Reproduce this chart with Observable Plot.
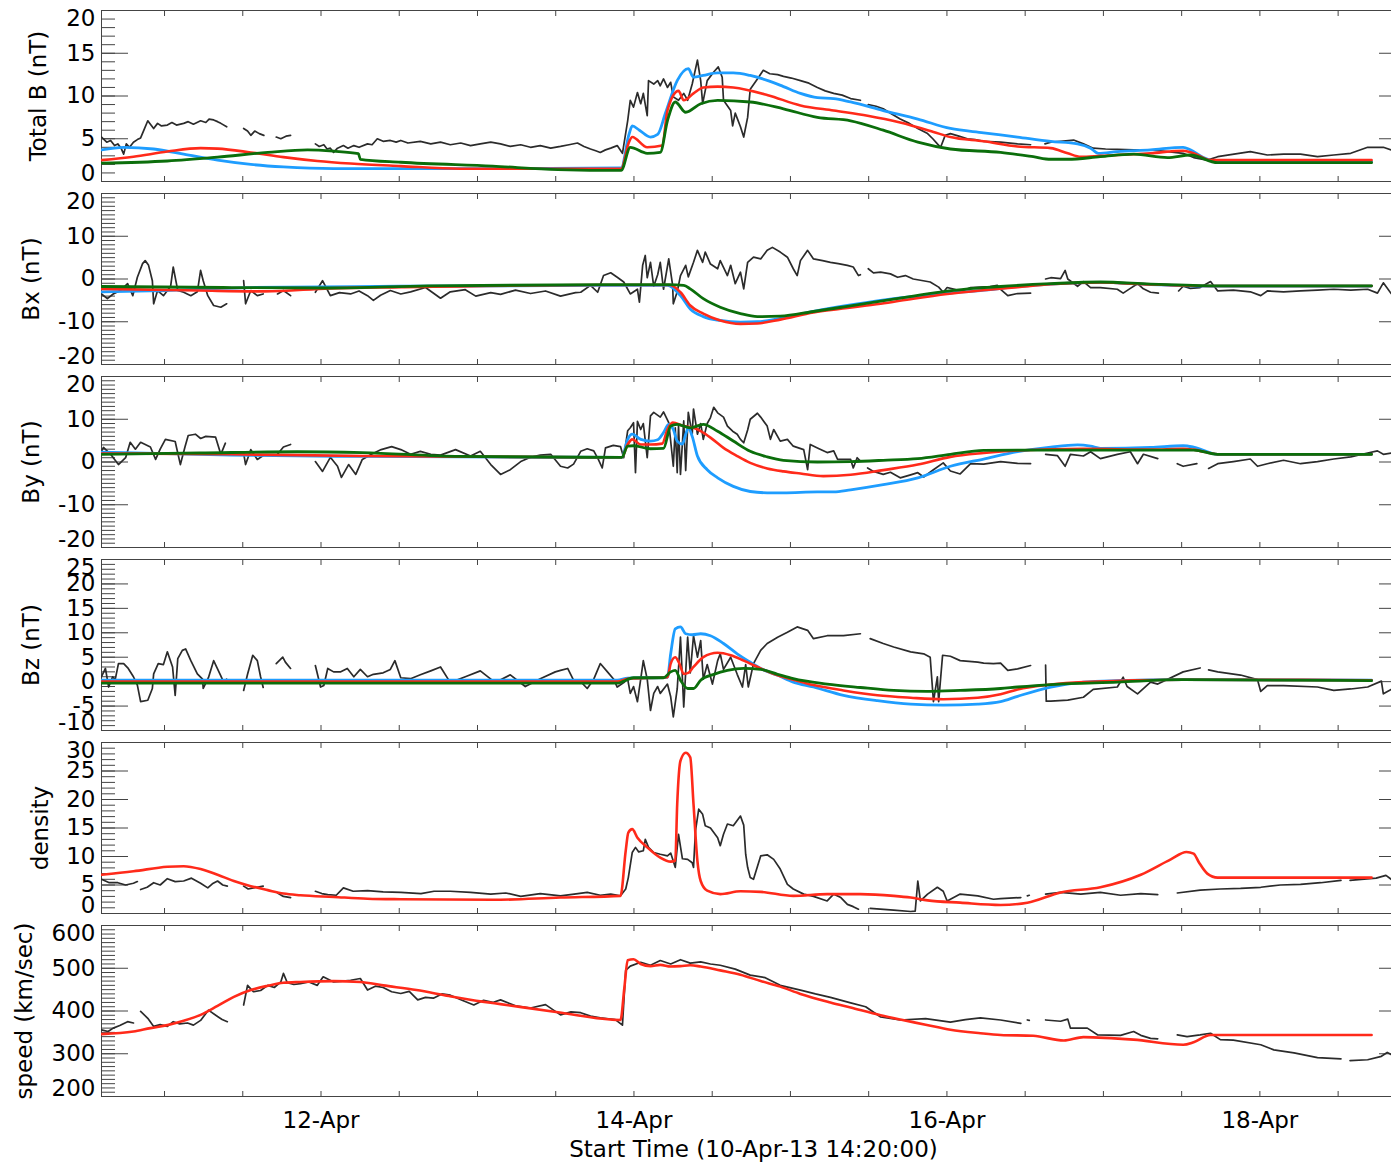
<!DOCTYPE html>
<html>
<head>
<meta charset="utf-8">
<script src="https://cdn.jsdelivr.net/npm/d3@7"></script>
<script src="https://cdn.jsdelivr.net/npm/@observablehq/plot@0.6"></script>
<style>
html, body { margin: 0; padding: 0; background: #fff; overflow: hidden; }
#chart { width: 1391px; overflow: hidden; }
#chart svg { display: block; max-width: none !important; }
</style>
</head>
<body>
<div id="chart"></div>
<script>
// ---- time axis: hours since start (10-Apr-13 14:20:00 UTC) ----
const T0 = Date.UTC(2013, 3, 10, 14, 20);
const xSpanHours = [0, 200];
const dayLabelDays = [12, 14, 16, 18];
const dayLabels = ["12-Apr", "14-Apr", "16-Apr", "18-Apr"];
const xTitle = "Start Time (10-Apr-13 14:20:00)";

// ---- Panel 1: Total B (nT) ----
const tbObs = [[0,5.2],[0.8,4.6],[1.4,4.8],[2.0,4.2],[2.5,4.4],[3.0,3.9],[3.4,3.2],[3.8,4.4],[4.3,4.0],[4.9,4.6],[5.5,4.9],[6.0,5.1],[6.5,6.0],[7.1,7.1],[7.5,6.7],[8.0,6.2],[8.6,6.8],[9.2,6.5],[10.1,6.6],[10.8,6.9],[11.5,6.6],[12.6,6.8],[13.3,7.0],[14.1,6.7],[15.2,7.1],[16.0,6.9],[16.5,7.3],[17.2,7.2],[17.8,7.0],[18.3,6.8],[19.2,6.4],[19.3,null],[21.8,6.2],[22.4,5.9],[22.9,5.4],[23.5,5.9],[24.2,5.6],[24.9,5.4],[25.0,null],[26.8,5.2],[27.5,5.0],[28.3,5.3],[29.0,5.4],[29.1,null],[32.8,4.4],[33.4,4.1],[34.1,4.3],[34.6,3.8],[35.1,3.9],[35.6,3.4],[36.2,3.9],[37.1,4.2],[37.8,3.9],[38.7,4.2],[39.5,4.0],[40.8,4.4],[41.5,4.3],[42.3,5.0],[43.2,4.7],[44.3,4.8],[45.2,4.6],[45.9,4.8],[47.0,4.5],[48.9,4.7],[50.5,4.4],[52.0,4.6],[53.5,4.3],[55.1,4.5],[56.6,4.2],[58.1,4.4],[59.7,4.6],[61.2,4.4],[62.7,4.1],[64.3,4.3],[65.8,4.0],[67.3,4.2],[68.9,3.9],[70.4,4.1],[71.7,4.3],[73.0,4.5],[74.0,4.1],[75.0,3.8],[75.8,3.6],[76.5,3.4],[77.3,3.7],[78.1,3.9],[79.1,4.2],[79.9,3.3],[80.7,7.1],[81.1,9.5],[81.6,8.7],[82.2,10.4],[82.7,9.1],[83.1,10.3],[83.7,7.7],[83.9,11.8],[84.7,11.4],[85.3,11.8],[85.7,11.2],[86.2,12.0],[86.8,11.0],[87.3,11.6],[87.7,9.9],[88.5,9.5],[89.3,10.3],[89.9,9.5],[90.6,11.4],[91.4,14.2],[91.9,11.8],[92.2,9.1],[92.9,11.8],[93.9,12.8],[94.6,13.4],[95.2,12.2],[95.4,9.5],[96.5,8.3],[96.8,6.5],[97.2,8.0],[98.0,6.4],[98.5,5.2],[99.1,7.5],[99.5,10.8],[100.6,12.0],[101.5,13.0],[102.5,12.6],[103.7,12.5],[104.6,12.3],[105.8,12.1],[107.2,11.8],[108.5,11.5],[109.8,11.0],[111.0,10.6],[112.3,10.3],[113.6,10.1],[114.9,9.7],[116.4,9.5],[116.5,null],[117.6,9.0],[118.8,8.8],[119.9,8.5],[121.2,7.9],[122.5,7.3],[123.9,6.8],[125.2,6.2],[126.7,5.6],[127.5,5.0],[128.2,4.4],[128.7,4.0],[129.4,5.4],[130.2,5.6],[131.5,5.3],[132.8,5.0],[134.0,4.9],[135.3,4.7],[137.9,4.6],[140.5,4.4],[142.5,4.3],[142.6,null],[144.7,4.4],[145.6,4.6],[147.1,4.7],[149.1,4.85],[150.6,4.4],[152.1,3.9],[154.0,3.8],[155.8,3.75],[158.3,3.7],[160.9,3.7],[163.5,3.5],[165.9,3.3],[167.5,2.8],[169.6,2.5],[171.2,2.9],[173.7,3.2],[176.2,3.5],[178.8,3.1],[181.3,3.2],[183.9,3.2],[186.5,2.9],[189.0,3.1],[191.6,3.3],[194.2,4.0],[196.6,4.0],[197.8,3.7]];
const tbBlue = [[0,3.7],[3.4,4.0],[8,3.8],[12.6,3.2],[17.8,2.5],[22.9,2.0],[27.9,1.7],[35.6,1.5],[45.9,1.5],[60,1.5],[79.7,1.6],[80.9,5.5],[81.4,6.5],[82.5,6.0],[84.2,5.2],[85.3,5.5],[86.5,8.0],[88.3,11.8],[90,13.2],[90.8,12.2],[92.3,12.4],[94.5,12.7],[96.9,12.7],[99.5,12.4],[102.2,11.8],[104.6,11.1],[107.2,10.3],[109.8,9.8],[112.3,9.7],[114.9,9.3],[119.9,8.3],[125.2,7.3],[130.2,6.2],[135.3,5.7],[140.5,5.2],[145.6,4.7],[149.7,4.4],[151.7,3.9],[152.9,3.3],[155.8,3.5],[160.9,3.7],[165.9,4.0],[167,3.7],[169,2.8],[171.2,2.3],[194.8,2.3]];
const tbRed = [[0,2.5],[4.9,2.9],[10.1,3.5],[15.2,3.9],[17.8,3.85],[22.9,3.4],[27.9,2.85],[33.1,2.4],[38.2,2.1],[45.9,1.8],[55,1.5],[79.7,1.5],[80.9,4.6],[81.4,5.2],[83.7,4.0],[86,4.2],[86.8,8.3],[88.5,10.6],[89.3,9.5],[90.8,10.3],[92.3,11.0],[94.5,11.1],[96.9,11.0],[102.2,10.1],[107.2,8.9],[112.3,8.3],[117.5,7.7],[122.5,6.9],[127.6,5.8],[130.2,5.2],[135.3,4.7],[140.5,4.1],[145.6,3.9],[148.2,3.3],[150.2,2.9],[153.2,3.0],[160.9,3.3],[165.9,3.6],[167.5,3.3],[170.1,2.5],[194.8,2.5]];
const tbGreen = [[0,2.15],[10.1,2.4],[17.8,2.85],[25.5,3.4],[31.6,3.7],[35.6,3.55],[39.4,3.25],[39.7,2.6],[45.9,2.25],[60,1.8],[70,1.4],[79.7,1.3],[81.1,4.0],[83.7,3.3],[85.7,3.4],[86.8,7.1],[88,9.3],[89.6,8.1],[91.9,9.1],[94.5,9.5],[99.5,9.3],[104.6,8.5],[109.8,7.5],[114.9,7.1],[119.9,6.0],[125.2,4.6],[130.2,3.8],[137.9,3.4],[142.9,2.9],[145.6,2.6],[148.2,2.6],[153.2,2.9],[158.3,3.2],[163.5,2.8],[167,3.1],[171.2,2.2],[194.8,2.2]];

// ---- Panel 2: Bx (nT) ----
const bxObs = [[0,-3.5],[0.9,-4.6],[1.8,-3.5],[2.9,-2.7],[4.0,-1.1],[4.8,-3.9],[5.5,0.4],[6.3,3.6],[6.7,4.3],[7.2,3.3],[7.8,-0.4],[8.0,-5.8],[8.6,-2.7],[9.5,-3.9],[10.6,-1.7],[11.0,2.8],[11.7,-2.7],[12.6,-3.1],[13.7,-3.9],[14.7,-3.0],[15.2,2.0],[15.6,-0.4],[16.3,-3.9],[17.2,-6.2],[18.3,-6.6],[19.2,-5.8],[19.3,null],[21.8,-0.4],[22.1,-5.8],[22.9,-2.7],[23.9,-3.9],[24.8,-3.5],[24.9,null],[27.0,-3.5],[27.9,-2.7],[29.0,-3.9],[29.1,null],[32.8,-3.1],[33.9,-0.4],[35.1,-3.9],[36.5,-3.2],[38.2,-3.5],[39.5,-2.8],[40.8,-3.9],[41.7,-5.0],[42.8,-3.8],[44.3,-2.7],[45.9,-3.5],[47.4,-3.0],[49.7,-2.0],[52.0,-4.5],[53.5,-3.0],[55.8,-2.5],[57.4,-4.0],[59.7,-3.2],[61.2,-3.6],[63.5,-2.6],[65.8,-3.4],[68.1,-2.8],[70.4,-4.0],[72.7,-3.2],[73.5,-3.1],[75.0,-1.5],[76.1,-3.1],[77.0,0.8],[78.1,1.45],[79.1,0.4],[80.1,-0.7],[81.1,-3.5],[82.2,-2.4],[82.5,-5.4],[83.0,3.2],[83.4,5.5],[83.7,0.3],[84.2,3.9],[84.7,-1.7],[85.3,1.0],[85.7,3.9],[86.2,-2.4],[87.0,4.7],[87.6,-1.5],[87.7,-5.8],[88.3,-3.0],[88.8,0.8],[89.6,3.2],[90.0,0.5],[90.8,3.9],[91.4,6.7],[92.2,3.9],[92.6,6.3],[93.4,3.5],[94.5,2.4],[94.9,4.3],[96.0,0.8],[96.5,3.2],[97.2,-1.1],[98.0,1.6],[98.5,-2.3],[99.1,3.9],[100.0,5.1],[101.1,4.7],[102.1,6.7],[102.9,7.4],[104.1,6.3],[105.2,5.1],[106.1,2.4],[106.7,0.8],[107.2,4.3],[108.3,6.7],[109.2,4.7],[110.6,4.3],[111.8,3.9],[113.0,3.6],[114.4,3.2],[115.3,2.8],[116.1,0.8],[116.4,1.0],[116.5,null],[117.6,2.4],[118.4,1.45],[119.5,1.6],[121.0,1.2],[122.1,0.4],[123.3,0.8],[124.5,0],[125.6,-0.3],[127.1,-0.7],[128.4,-1.9],[129.1,-3.1],[129.7,-2.0],[131.0,-2.5],[132.2,-2.7],[133.3,-2.0],[134.8,-1.9],[136.3,-1.8],[137.4,-1.5],[137.9,-2.4],[139.0,-3.9],[140.5,-3.4],[142.5,-3.3],[142.6,null],[144.8,0],[145.6,0.3],[147.1,0.1],[147.8,2.0],[148.2,0],[149.7,-1.7],[150.6,-0.6],[151.7,-2.0],[153.2,-2.0],[155.8,-2.4],[156.7,-3.3],[157.8,-2.2],[158.9,-1.1],[159.8,-2.3],[160.9,-3.1],[162.1,-3.3],[162.2,null],[165.2,-2.8],[165.9,-1.7],[167.0,-2.2],[168.5,-2.0],[170.1,-0.6],[171.2,-2.8],[173.6,-2.6],[176.2,-3.0],[177.8,-3.9],[178.8,-2.8],[181.3,-3.0],[183.9,-2.8],[186.5,-2.6],[189.0,-2.4],[191.6,-2.6],[194.2,-2.4],[195.7,-3.3],[196.6,-0.9],[197.8,-3.4]];
const bxBlue = [[0,-3.0],[7.5,-2.8],[22.9,-2.0],[45.9,-1.7],[76.5,-1.5],[86.8,-1.5],[88.8,-3.9],[90.3,-7.0],[92.3,-8.8],[94.9,-9.7],[98.0,-10.1],[100.6,-10.0],[104.1,-9.2],[109.2,-7.6],[114.4,-6.2],[119.5,-5.0],[124.5,-4.1],[129.7,-3.3],[134.8,-2.7],[140.5,-1.8],[145.6,-1.2],[153.2,-0.8],[160.9,-1.3],[171.2,-1.65],[194.8,-1.65]];
const bxRed = [[0,-2.3],[15,-2.7],[25,-2.9],[35,-2.2],[46,-1.9],[76.5,-1.4],[87.2,-1.4],[88.8,-3.1],[90.3,-6.2],[92.3,-8.1],[94.9,-9.7],[98.0,-10.5],[100.6,-10.4],[104.1,-9.5],[109.2,-7.8],[114.4,-6.8],[119.5,-5.8],[124.5,-4.6],[129.7,-3.5],[134.8,-2.7],[140.5,-1.9],[145.6,-1.2],[153.2,-0.8],[160.9,-1.3],[171.2,-1.65],[194.8,-1.65]];
const bxGreen = [[0,-1.75],[20,-2.0],[35,-2.1],[50,-1.6],[76.5,-1.3],[87.0,-1.3],[89.3,-1.5],[90.3,-2.3],[92.3,-4.6],[94.9,-6.6],[98.0,-8.1],[100.6,-8.8],[104.1,-8.7],[109.2,-7.6],[114.4,-6.4],[119.5,-5.2],[124.5,-4.0],[129.7,-2.85],[134.8,-2.1],[137.9,-1.75],[145.6,-1.1],[153.2,-0.7],[160.9,-1.2],[171.2,-1.6],[194.8,-1.6]];

// ---- Panel 3: By (nT) ----
const byObs = [[0,2.5],[0.3,3.4],[1.4,1.8],[2.6,-0.6],[3.7,1.0],[4.4,4.6],[5.2,3.0],[6.0,4.6],[7.5,3.5],[8.3,0.6],[9.0,3.0],[9.8,5.3],[11.3,4.8],[12.1,-0.6],[12.8,3.5],[13.3,6.2],[14.4,6.5],[15.2,5.5],[16.0,6.0],[17.5,5.8],[18.3,1.8],[19.0,4.4],[19.2,null],[21.8,2.0],[22.1,-0.6],[22.9,2.9],[23.9,0.6],[24.8,1.5],[24.9,null],[27.0,1.8],[27.9,3.5],[29.0,4.1],[29.1,null],[32.8,0.1],[33.9,-2.2],[35.1,1.1],[36.2,-1.0],[36.8,-3.6],[37.9,-0.6],[39.0,-2.9],[40.0,0.6],[41.4,1.8],[42.9,2.9],[44.5,3.6],[45.9,2.9],[47.4,1.8],[48.9,2.5],[50.5,1.8],[52.0,1.6],[54.3,2.9],[56.6,1.4],[58.1,2.5],[59.7,-0.6],[61.2,-2.9],[62.7,-1.8],[64.3,0.1],[65.8,1.1],[67.3,1.6],[68.9,1.8],[70.4,-1.0],[71.5,-1.4],[72.4,-0.5],[73.5,2.5],[74.5,3.1],[75.5,2.6],[76.2,0.6],[76.8,-1.4],[77.3,3.3],[78.5,3.9],[79.6,3.6],[80.1,1.0],[80.7,7.3],[81.1,8.0],[81.6,9.2],[81.9,-2.5],[82.2,9.5],[82.7,7.6],[83.1,9.0],[83.7,1.0],[84.2,10.8],[84.7,11.6],[85.7,10.5],[86.2,11.7],[87.0,9.2],[87.7,-1.0],[88.0,8.0],[88.3,-2.5],[88.5,8.5],[88.8,-2.9],[89.3,9.6],[89.6,-2.0],[90.0,11.6],[90.6,6.5],[90.8,12.4],[91.4,6.5],[91.9,9.0],[92.3,5.3],[92.9,9.0],[93.4,10.4],[93.9,12.8],[94.5,11.5],[95.4,10.5],[96.0,8.4],[96.8,7.2],[97.5,6.5],[98.0,5.3],[98.5,4.5],[99.1,7.5],[99.5,10.0],[100.6,11.4],[101.1,10.5],[102.1,8.4],[102.6,5.3],[103.1,7.6],[104.1,4.9],[105.2,5.3],[106.1,3.7],[107.7,2.9],[108.3,-1.8],[108.7,4.1],[109.8,3.3],[111.3,2.2],[112.3,2.6],[112.9,0.6],[113.8,0.6],[114.9,0.6],[115.3,-1.4],[115.9,1.0],[116.4,0.2],[116.5,null],[117.5,-1.4],[118.4,-2.2],[119.9,-2.9],[121.0,-2.4],[122.5,-3.7],[124.1,-3.0],[125.2,-2.5],[126.1,-3.5],[127.6,-1.8],[129.1,-0.2],[130.2,-2.1],[131.7,-2.8],[133.3,-0.4],[135.3,-0.5],[137.9,0.1],[140.5,-0.3],[142.5,-0.4],[142.6,null],[144.8,1.8],[146.6,1.5],[147.8,-1.0],[148.6,1.8],[150.6,1.4],[151.7,2.4],[153.2,0.8],[155.8,1.8],[157.8,2.4],[158.9,-0.4],[159.8,1.8],[162.0,0.8],[162.1,null],[165.0,-0.4],[165.9,-1.0],[168.0,-0.4],[168.1,null],[169.8,-1.5],[171.2,-0.4],[173.6,0.1],[176.2,0.7],[177.3,-1.0],[178.8,-0.4],[181.3,0.4],[183.9,-0.4],[186.5,0.1],[189.0,0.7],[191.6,1.2],[194.2,2.1],[195.7,2.6],[196.6,1.8],[197.8,2.1]];
const byBlue = [[0,2.3],[20,1.6],[40,1.3],[79.8,1.1],[80.7,5.3],[81.4,6.5],[82.7,5.3],[84.2,4.9],[85.3,5.2],[86.2,6.9],[87.0,8.8],[87.7,7.6],[88.3,4.9],[89.1,4.2],[89.6,6.5],[90.0,8.0],[90.6,6.0],[91.4,1.4],[92.9,-1.8],[94.5,-3.7],[96.9,-5.7],[99.5,-6.9],[102.1,-7.2],[104.6,-7.2],[109.8,-7.0],[112.3,-7.0],[114.9,-6.5],[119.9,-5.3],[125.2,-3.7],[130.2,-1.0],[135.3,0.7],[140.5,2.4],[145.6,3.5],[149.7,4.0],[151.7,3.7],[153.2,3.2],[160.9,3.4],[165.9,3.8],[167.5,3.5],[171.2,1.8],[194.8,1.8]];
const byRed = [[0,2.0],[20,1.8],[40,1.4],[79.8,1.1],[80.7,4.1],[81.4,5.3],[82.7,4.1],[84.2,4.1],[86.0,4.3],[86.8,7.6],[87.6,9.2],[89.3,8.4],[90.8,8.0],[91.9,7.2],[93.4,5.7],[95.4,3.3],[97.5,1.4],[99.5,-0.2],[102.1,-1.5],[104.6,-2.2],[107.2,-2.7],[110.7,-3.3],[114.9,-3.0],[119.9,-1.9],[125.2,-0.6],[130.2,1.2],[135.3,2.1],[140.5,2.7],[150.6,3.1],[160.9,2.9],[165.9,3.1],[167.5,2.9],[171.2,1.8],[194.8,1.8]];
const byGreen = [[0,1.8],[15,2.1],[30,2.4],[40,2.2],[55,1.3],[79.8,1.1],[80.7,3.7],[81.6,3.8],[84.2,3.1],[86.2,3.2],[87.3,8.4],[88.3,8.8],[90.3,8.0],[92.3,8.8],[94.5,7.2],[96.9,4.9],[99.5,2.5],[102.1,1.2],[104.6,0.4],[109.8,0],[114.9,0.1],[119.9,0.4],[125.2,0.8],[130.2,1.8],[135.3,2.7],[140.5,2.8],[165.9,2.8],[167.5,2.8],[171.2,1.8],[194.8,1.8]];

// ---- Panel 4: Bz (nT) ----
const bzObs = [[0,1.0],[0.6,2.7],[1.1,-1.1],[1.7,1.0],[2.1,0.4],[2.6,3.7],[3.4,3.7],[4.1,2.7],[4.9,1.0],[5.5,-0.7],[6.0,-4.1],[7.1,-3.8],[7.8,-1.4],[8.0,1.6],[8.7,3.7],[9.5,3.5],[10.1,6.1],[10.9,3.0],[11.3,-2.8],[11.7,4.7],[12.4,6.4],[12.9,6.7],[13.7,4.3],[14.7,1.6],[15.5,0.5],[15.6,-1.4],[16.4,0.8],[17.2,4.3],[18.3,1.2],[18.7,0],[19.2,0.5],[19.3,null],[21.8,-1.8],[22.4,1.5],[23.2,5.4],[23.9,4.3],[24.4,1.0],[24.8,-1.2],[24.9,null],[26.8,3.7],[27.8,5.0],[28.2,4.0],[29.0,2.7],[29.1,null],[32.8,3.3],[33.6,-1.1],[34.1,-0.8],[34.7,2.7],[35.6,2.0],[36.7,2.0],[37.7,2.7],[38.7,1.0],[39.7,2.5],[40.8,1.0],[41.7,1.5],[43.2,1.8],[44.3,2.5],[45.0,4.3],[45.9,0.8],[47.4,0.6],[48.9,1.4],[50.5,2.2],[52.0,3.0],[53.5,-0.2],[55.8,1.0],[58.1,2.2],[60.4,-0.2],[62.7,1.4],[65.0,-1.0],[67.3,0.6],[69.6,2.0],[70.4,2.3],[71.5,2.7],[72.4,0.3],[73.5,0],[74.5,-1.4],[75.5,0.5],[76.5,3.7],[77.6,2.0],[78.5,0.6],[79.1,-1.1],[80.1,-0.2],[80.7,0.5],[81.1,-2.4],[81.6,-1.0],[82.2,-4.1],[82.7,0.5],[83.1,4.3],[83.7,0.5],[84.2,-5.9],[84.7,-2.4],[85.3,-1.0],[85.7,-2.4],[86.8,-0.5],[87.3,-3.1],[87.7,-7.2],[88.3,-1.5],[88.8,9.1],[89.3,-5.2],[89.9,9.1],[90.3,1.8],[90.8,9.4],[91.4,5.0],[91.9,8.4],[92.3,0.5],[92.9,3.5],[93.7,-0.5],[94.5,4.3],[94.9,5.7],[95.4,2.5],[96.5,5.0],[97.5,1.5],[98.3,-1.1],[98.8,3.5],[99.2,-1.1],[100.0,3.7],[101.1,6.4],[102.1,7.8],[103.7,9.1],[105.2,10.1],[106.7,11.2],[108.3,10.5],[109.2,8.8],[111.3,9.4],[113.8,9.4],[116.4,9.8],[116.5,null],[117.9,8.8],[119.9,7.8],[121.5,7.1],[124.1,6.1],[126.1,5.7],[127.1,5.0],[127.6,-4.1],[128.2,1.0],[128.4,-4.1],[129.0,5.4],[130.2,5.2],[131.7,4.3],[134.4,4.0],[135.3,3.8],[136.8,3.7],[137.9,3.8],[139.0,2.3],[140.5,2.6],[142.5,3.3],[142.6,null],[144.8,3.4],[144.9,-4.0],[145.6,-4.0],[148.2,-3.8],[150.6,-3.2],[152.1,-1.6],[155.8,-1.1],[156.7,0.9],[157.3,-1.0],[158.9,-2.5],[160.9,-0.1],[162.0,-0.5],[165.9,2.0],[168.5,2.8],[168.6,null],[169.8,2.4],[171.2,2.0],[174.7,1.35],[177.3,0.4],[177.8,-2.0],[178.8,-0.8],[181.3,-0.8],[186.5,-1.1],[189.0,-1.8],[191.6,-1.5],[194.2,-1.1],[196.3,0.1],[196.6,-2.5],[197.8,-1.6]];
const bzBlue = [[0,0.3],[79.1,0.3],[80.7,0.7],[86.8,0.9],[87.3,5.7],[88.0,10.8],[88.8,11.2],[89.6,9.8],[90.6,9.6],[91.9,9.8],[93.4,9.4],[95.4,7.8],[97.5,5.7],[99.1,4.3],[101.1,2.7],[103.7,1.3],[106.1,-0.1],[109.2,-1.1],[113.8,-2.8],[119.0,-3.9],[124.1,-4.6],[129.1,-4.8],[134.4,-4.6],[137.9,-4.1],[140.5,-3.0],[145.6,-1.1],[150.6,-0.1],[155.8,0.2],[165.9,0.4],[194.8,0.3]];
const bzRed = [[0,0],[79.1,0],[80.7,0.6],[86.8,0.9],[87.3,3.7],[88.0,5.0],[88.6,3.8],[89.3,1.6],[90.0,1.8],[90.8,3.0],[92.3,5.0],[94.5,5.9],[96.5,5.4],[98.5,4.3],[101.1,2.7],[103.7,1.3],[106.1,0.4],[109.2,-0.7],[113.8,-1.8],[119.0,-2.8],[124.1,-3.3],[129.1,-3.6],[134.4,-3.3],[137.9,-2.6],[140.5,-1.6],[145.6,-0.6],[150.6,-0.1],[165.9,0.4],[194.8,0.3]];
const bzGreen = [[0,-0.3],[79.1,-0.3],[81.6,0.8],[86.2,0.8],[87.3,2.0],[88.0,2.3],[88.8,0.3],[89.9,-1.4],[90.8,-1.4],[91.9,0.3],[93.9,1.5],[96.0,2.3],[98.5,2.7],[101.1,2.5],[103.7,1.5],[106.1,0.6],[111.3,-0.5],[116.4,-1.2],[121.5,-1.8],[126.6,-2.0],[131.7,-1.8],[137.9,-1.4],[140.5,-1.1],[145.6,-0.6],[155.8,-0.1],[165.9,0.4],[194.8,0.2]];

// ---- Panel 5: density ----
const denObs = [[0,6.0],[1.2,5.4],[2.5,5.4],[3.7,5.0],[4.9,5.3],[5.5,5.6],[5.6,null],[6.0,4.2],[7.0,4.6],[8.0,5.4],[9.0,5.0],[10.1,6.1],[11.3,5.6],[12.6,5.7],[13.8,6.2],[15.2,5.3],[16.3,4.5],[17.0,5.2],[17.8,5.7],[18.6,5.0],[19.3,4.8],[19.4,null],[21.8,4.8],[22.5,4.3],[23.3,4.5],[24.8,4.8],[24.9,null],[27.0,3.6],[27.9,3.0],[29.0,2.8],[29.1,null],[32.8,3.9],[33.8,3.5],[34.7,3.3],[36.0,3.2],[37.1,4.5],[38.6,3.9],[40.8,4.0],[43.2,3.8],[45.9,3.7],[49.0,3.5],[51.0,3.9],[53.5,3.9],[56.6,3.7],[59.7,3.4],[62.0,3.6],[64.3,3.0],[67.3,3.5],[70.4,3.1],[72.5,3.4],[74.5,3.7],[76.5,3.2],[78.1,3.4],[79.6,3.1],[80.4,4.3],[80.8,6.3],[81.4,10.7],[81.9,11.6],[82.4,10.8],[83.1,11.0],[83.4,13.0],[83.9,11.6],[84.7,10.7],[85.7,10.4],[86.8,10.1],[87.3,10.6],[88.0,8.1],[88.5,13.9],[89.1,9.6],[89.9,9.5],[90.6,8.9],[90.8,8.1],[91.1,14.5],[91.6,18.3],[92.2,17.4],[92.6,15.4],[93.4,15.0],[94.5,13.3],[94.9,11.9],[95.4,13.9],[96.0,15.7],[96.9,15.4],[98.0,17.1],[98.5,15.5],[98.8,10.4],[99.1,8.1],[99.5,6.3],[100.0,6.0],[101.1,10.1],[102.1,10.3],[103.1,9.5],[104.1,7.8],[105.2,5.1],[106.1,4.3],[107.7,3.4],[109.2,3.0],[111.3,2.2],[112.3,3.4],[113.4,2.8],[114.4,1.6],[115.3,1.2],[116.1,0.75],[116.2,null],[117.9,0.9],[121.5,0.6],[124.1,0.35],[124.8,0.4],[125.2,5.7],[125.6,2.2],[126.7,3.4],[128.2,4.6],[129.1,3.9],[129.7,2.2],[130.7,2.8],[131.7,3.4],[134.4,3.1],[136.8,2.5],[137.9,2.6],[141.0,2.8],[141.1,null],[142.0,3.1],[142.3,3.2],[142.4,null],[144.8,3.4],[147.1,3.7],[150.2,3.4],[153.2,3.7],[156.3,3.2],[159.4,3.5],[162.0,3.3],[162.1,null],[165.0,3.6],[168.5,4.1],[171.6,4.3],[174.7,4.4],[177.8,4.6],[180.8,5.0],[183.9,5.1],[187.0,5.4],[190.1,5.8],[190.2,null],[191.5,5.8],[193.2,6.0],[195.5,6.2],[197.0,6.7],[197.8,6.0]];
const denRed = [[0,6.8],[4.9,7.4],[10.1,8.2],[12.6,8.3],[15.2,7.8],[17.8,6.8],[20.3,5.7],[22.9,4.8],[25.5,4.1],[27.9,3.5],[30.5,3.2],[35.6,2.9],[40.8,2.6],[45.9,2.5],[60,2.4],[70.4,2.8],[79.6,3.1],[80.4,11.0],[80.8,14.2],[81.4,14.8],[82.2,13.3],[83.7,11.6],[85.7,9.8],[87.3,9.1],[88.0,9.3],[88.3,19.2],[88.8,26.8],[89.6,28.2],[90.3,27.4],[90.8,19.2],[91.4,9.2],[91.9,5.7],[92.9,4.0],[94.9,3.4],[98.0,3.9],[101.1,3.8],[106.1,3.1],[111.3,3.4],[116.4,3.4],[121.5,3.1],[124.1,2.8],[126.7,2.3],[131.7,1.9],[137.9,1.5],[142,1.9],[147.1,3.7],[153.2,4.6],[159.4,6.8],[164.0,9.5],[166.4,10.8],[167.5,10.5],[168.3,9.0],[169.6,7.0],[171.2,6.3],[194.8,6.3]];

// ---- Panel 6: speed (km/sec) ----
const spdObs = [[0,356],[1.0,352],[1.8,360],[2.8,366],[4.0,375],[4.9,372],[5.0,null],[6.0,399],[7.1,383],[8.0,364],[9.0,368],[10.1,364],[11.0,375],[12.0,370],[13.2,372],[14.1,367],[15.2,378],[16.4,402],[17.8,387],[18.5,380],[19.3,375],[19.4,null],[21.8,414],[22.4,460],[23.3,445],[24.4,448],[25.5,460],[26.5,455],[27.5,468],[27.9,488],[28.5,466],[29.5,462],[30.5,464],[31.8,468],[33.1,460],[34.0,480],[35.6,468],[37.0,470],[38.2,472],[39.7,476],[40.8,449],[42.0,458],[43.2,455],[44.5,445],[45.9,441],[47.2,446],[48.5,426],[49.7,432],[50.9,430],[52.2,440],[53.5,437],[55.3,425],[57.1,414],[58.6,425],[60.0,420],[61.2,426],[63.5,412],[65.8,407],[68.1,415],[70.4,391],[72.0,398],[73.5,396],[75.0,388],[76.5,384],[78.8,380],[79.9,367],[80.4,495],[81.1,505],[82.7,514],[84.2,507],[85.7,518],[87.3,510],[88.8,520],[90.3,512],[91.9,515],[93.4,510],[94.9,507],[97.2,498],[99.5,484],[101.8,478],[104.1,460],[107.2,449],[109.5,440],[111.8,432],[114.9,419],[117.2,410],[119.5,386],[122.5,379],[126.4,382],[130.2,374],[132.5,380],[134.8,384],[137.9,379],[141.0,371],[141.1,null],[142.0,379],[142.3,378],[142.4,null],[144.8,379],[147.1,376],[148.2,381],[148.6,360],[151.2,360],[152.8,344],[156.3,343],[158.3,352],[159.4,343],[160.9,336],[162.0,335],[162.1,null],[165.0,344],[166.5,340],[168.5,344],[170.1,348],[171.6,333],[173.6,332],[177.8,321],[179.8,309],[182.9,302],[186.5,291],[190.1,288],[190.2,null],[191.5,284],[194.2,286],[196.3,294],[197.2,303],[197.8,298]];
const spdRed = [[0,346],[4.9,352],[7.5,360],[10.1,367],[12.6,377],[15.2,391],[17.8,412],[20.3,433],[22.9,449],[25.5,459],[27.9,466],[30.5,468],[35.6,470],[39.7,468],[43.2,460],[48.3,449],[53.3,435],[58.4,422],[61.2,416],[70,397],[79.6,379],[80.2,455],[80.7,519],[81.6,521],[82.7,510],[84.2,505],[85.7,508],[87.3,504],[88.8,505],[90.3,507],[91.9,504],[94.9,495],[98.0,485],[101.1,470],[104.1,457],[107.2,440],[111.8,420],[114.9,408],[119.5,390],[122.5,380],[126.4,368],[130.2,356],[134.8,348],[137.9,344],[142.9,342],[147.6,331],[150.6,339],[158.3,333],[165.9,321],[167.5,327],[170.1,344],[194.8,344]];

// ---- axis tick values ----
const tbTicks = [0, 5, 10, 15, 20];
const bxTicks = [-20, -10, 0, 10, 20];
const byTicks = [-20, -10, 0, 10, 20];
const bzTicks = [-10, -5, 0, 5, 10, 15, 20, 25];
const denTicks = [0, 5, 10, 15, 20, 25, 30];
const spdTicks = [200, 300, 400, 500, 600];

// ---- colours ----
const C_OBS = "#2b2b2b", C_BLUE = "#1e9dff", C_RED = "#ff2a1a", C_GREEN = "#0b6e0b";
const AXIS = "#444444";
const FONT = "'DejaVu Sans', 'Liberation Sans', Arial, sans-serif";

const toDate = h => new Date(T0 + h * 3600e3);
const pts = arr => arr.map(([h, v]) => ({t: toDate(h), v}));
const xDomain = xSpanHours.map(toDate);
const halfDayTicks = d3.utcHour.every(12).range(xDomain[0], new Date(+xDomain[1] + 1));
const dayLabelDates = dayLabelDays.map(d => new Date(Date.UTC(2013, 3, d)));

// [data, colour, width, curve]
const panels = [
  {label: "Total B (nT)", domain: [0, 20], majors: tbTicks, minorStep: 1, titleDx: -63,
   lines: [[tbObs, C_OBS, 1.7, "linear"], [tbBlue, C_BLUE, 2.8, "monotone-x"], [tbRed, C_RED, 2.6, "monotone-x"], [tbGreen, C_GREEN, 2.8, "monotone-x"]]},
  {label: "Bx (nT)", domain: [-20, 20], majors: bxTicks, minorStep: 1, titleDx: -70,
   lines: [[bxObs, C_OBS, 1.7, "linear"], [bxBlue, C_BLUE, 2.8, "monotone-x"], [bxRed, C_RED, 2.6, "monotone-x"], [bxGreen, C_GREEN, 2.8, "monotone-x"]]},
  {label: "By (nT)", domain: [-20, 20], majors: byTicks, minorStep: 1, titleDx: -70,
   lines: [[byObs, C_OBS, 1.7, "linear"], [byBlue, C_BLUE, 2.8, "monotone-x"], [byRed, C_RED, 2.6, "monotone-x"], [byGreen, C_GREEN, 2.8, "monotone-x"]]},
  {label: "Bz (nT)", domain: [-10, 25], majors: bzTicks, minorStep: 1, titleDx: -70,
   lines: [[bzObs, C_OBS, 1.7, "linear"], [bzBlue, C_BLUE, 2.8, "monotone-x"], [bzRed, C_RED, 2.6, "monotone-x"], [bzGreen, C_GREEN, 2.8, "monotone-x"]]},
  {label: "density", domain: [0, 30], majors: denTicks, minorStep: 1, titleDx: -61,
   lines: [[denObs, C_OBS, 1.7, "linear"], [denRed, C_RED, 2.6, "monotone-x"]]},
  {label: "speed (km/sec)", domain: [200, 600], majors: spdTicks, minorStep: 10, titleDx: -77,
   lines: [[spdObs, C_OBS, 1.7, "linear"], [spdRed, C_RED, 2.6, "monotone-x"]]}
];

const chart = document.getElementById("chart");
const fmt = d => String(d);

panels.forEach((p, i) => {
  const last = i === panels.length - 1;
  const minors = d3.range(p.domain[0], p.domain[1] + 1e-9, p.minorStep);
  const inner = p.majors.slice(1, -1);
  const lo = p.majors[0], hi = p.majors[p.majors.length - 1];
  const labelOpts = {anchor: "left", tickSize: 0, tickPadding: 6, tickFormat: fmt, fontSize: 23, fill: "#000", label: null};
  const marks = [
    Plot.frame({stroke: AXIS}),
    Plot.axisY(minors, {anchor: "left", tickSize: 14, dx: 14, fill: "none", stroke: AXIS, label: null}),
    Plot.axisY(p.majors, {anchor: "left", tickSize: 27, dx: 27, fill: "none", stroke: AXIS, label: null}),
    Plot.axisY(minors, {anchor: "right", tickSize: 14, dx: -14, fill: "none", stroke: AXIS, label: null}),
    Plot.axisY(p.majors, {anchor: "right", tickSize: 27, dx: -27, fill: "none", stroke: AXIS, label: null}),
    Plot.axisX(halfDayTicks, {anchor: "bottom", tickSize: 5, dy: -5, fill: "none", stroke: AXIS, label: null}),
    Plot.axisX(halfDayTicks, {anchor: "top", tickSize: 5, dy: 5, fill: "none", stroke: AXIS, label: null}),
    Plot.axisY(inner, labelOpts),
    Plot.axisY([hi], {...labelOpts, dy: 8.5}),
    Plot.axisY([lo], {...labelOpts, dy: -8}),
    Plot.text([p.label], {text: d => d, frameAnchor: "left", textAnchor: "middle", lineAnchor: "middle", dx: p.titleDx, rotate: -90, fontSize: 23, fill: "#000"})
  ];
  for (const [data, color, w, curve] of p.lines) {
    marks.push(Plot.line(pts(data), {x: "t", y: "v", stroke: color, strokeWidth: w, curve, clip: true}));
  }
  if (last) {
    marks.push(Plot.axisX(dayLabelDates, {anchor: "bottom", tickSize: 0, tickPadding: 15, fontSize: 23, fill: "#000", label: null,
      tickFormat: d => dayLabels[dayLabelDates.findIndex(x => +x === +d)]}));
    marks.push(Plot.text([xTitle], {text: d => d, frameAnchor: "bottom", textAnchor: "middle", lineAnchor: "middle", dy: 53, fontSize: 23, fill: "#000"}));
  }
  const svg = Plot.plot({
    width: 1406,
    height: last ? 251 : 183,
    marginLeft: 101, marginRight: 1, marginTop: 10, marginBottom: last ? 70 : 2,
    x: {type: "utc", domain: xDomain},
    y: {domain: p.domain},
    style: {fontFamily: FONT, fontSize: "23px", color: "#000", background: "#fff", overflow: "visible"},
    marks
  });
  chart.append(svg);
});
</script>
</body>
</html>
